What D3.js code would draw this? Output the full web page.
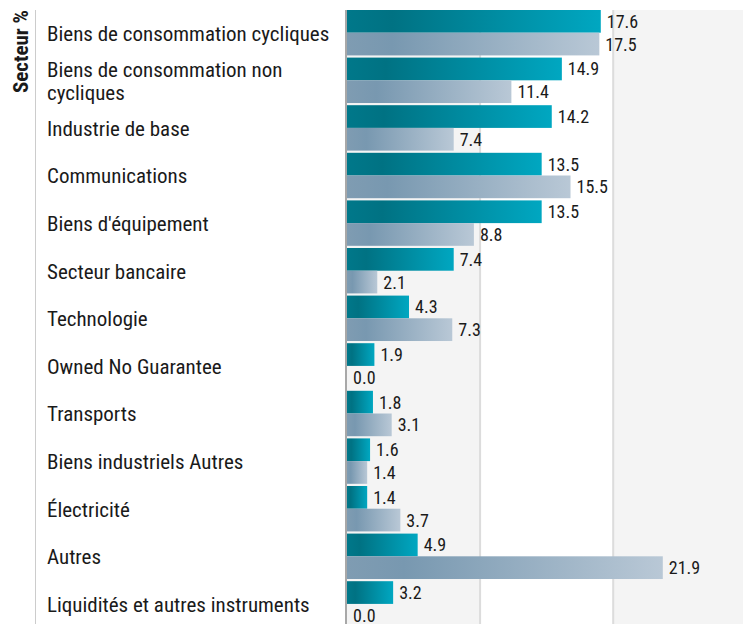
<!DOCTYPE html>
<html>
<head>
<meta charset="utf-8">
<script src="https://cdn.jsdelivr.net/npm/d3@7"></script>
<style>
  body { margin: 0; background: #fff; }
  text { font-family: Roboto, sans-serif; font-stretch: 85%; fill: #1a1a1a; }
</style>
</head>
<body>
<div id="chart"></div>
<script>
const categories = [
  ['Biens de consommation cycliques'],
  ['Biens de consommation non', 'cycliques'],
  ['Industrie de base'],
  ['Communications'],
  ["Biens d'équipement"],
  ['Secteur bancaire'],
  ['Technologie'],
  ['Owned No Guarantee'],
  ['Transports'],
  ['Biens industriels Autres'],
  ['Électricité'],
  ['Autres'],
  ['Liquidités et autres instruments']
];
const fundValues = [17.6, 14.9, 14.2, 13.5, 13.5, 7.4, 4.3, 1.9, 1.8, 1.6, 1.4, 4.9, 3.2];
const indexValues = [17.5, 11.4, 7.4, 15.5, 8.8, 2.1, 7.3, 0.0, 3.1, 1.4, 3.7, 21.9, 0.0];
const gridValues = [9.23, 18.46, 27.7];
const axisTitle = 'Secteur %';

const W = 743, H = 624;
const plotTop = 10, step = 47.6;
const labelX = 47;

const svg = d3.select('#chart').append('svg')
  .attr('width', W).attr('height', H);

const defs = svg.append('defs');
const tealGrad = defs.append('linearGradient').attr('id', 'tealGrad');
tealGrad.append('stop').attr('offset', '0%').attr('stop-color', '#00788a');
tealGrad.append('stop').attr('offset', '18%').attr('stop-color', '#007283');
tealGrad.append('stop').attr('offset', '100%').attr('stop-color', '#00a7c1');
const greyGrad = defs.append('linearGradient').attr('id', 'greyGrad');
greyGrad.append('stop').attr('offset', '0%').attr('stop-color', '#7f9cb2');
greyGrad.append('stop').attr('offset', '18%').attr('stop-color', '#7898b0');
greyGrad.append('stop').attr('offset', '100%').attr('stop-color', '#b9c8d6');

const keys = categories.map(c => c.join(' '));
const y = d3.scaleBand().domain(keys)
  .range([plotTop, plotTop + categories.length * step])
  .paddingInner(0.046).paddingOuter(0.023).align(0);
const sub = d3.scaleBand().domain(['fund', 'index']).range([0, y.bandwidth()]);
const x = d3.scaleLinear().domain([0, 27.7]).range([347, 347 + 27.7 * 14.42]);

// alternating background columns
const edges = [0].concat(gridValues);
svg.selectAll('.stripe')
  .data(d3.pairs(edges))
  .enter().append('rect')
  .attr('x', d => x(d[0]))
  .attr('y', plotTop)
  .attr('width', d => x(d[1]) - x(d[0]))
  .attr('height', H - plotTop)
  .attr('fill', (d, i) => i % 2 === 0 ? '#f4f4f4' : '#ffffff');

svg.selectAll('.grid')
  .data(gridValues.slice(0, 2))
  .enter().append('line')
  .attr('x1', d => x(d)).attr('x2', d => x(d))
  .attr('y1', plotTop).attr('y2', H)
  .attr('stroke', '#dcdcdc').attr('stroke-width', 2);

const rows = keys.map((k, i) => ({ key: k, lines: categories[i], fund: fundValues[i], index: indexValues[i] }));

const g = svg.selectAll('.row')
  .data(rows)
  .enter().append('g')
  .attr('transform', d => `translate(0,${y(d.key)})`);

g.append('rect')
  .attr('x', x(0))
  .attr('y', sub('fund'))
  .attr('width', d => x(d.fund) - x(0))
  .attr('height', sub.bandwidth())
  .attr('fill', 'url(#tealGrad)');

g.append('rect')
  .attr('x', x(0))
  .attr('y', sub('index'))
  .attr('width', d => x(d.index) - x(0))
  .attr('height', sub.bandwidth())
  .attr('fill', 'url(#greyGrad)');

g.append('text')
  .attr('x', d => x(d.fund) + 6)
  .attr('y', sub('fund') + sub.bandwidth() / 2)
  .attr('dy', '0.36em')
  .style('font-size', '18px')
  .text(d => d.fund.toFixed(1));

g.append('text')
  .attr('x', d => x(d.index) + 6)
  .attr('y', sub('index') + sub.bandwidth() / 2)
  .attr('dy', '0.36em')
  .style('font-size', '18px')
  .text(d => d.index.toFixed(1));

// category labels
const lbl = g.append('text')
  .attr('x', labelX)
  .attr('y', y.bandwidth() / 2)
  .style('font-size', '21px');
lbl.selectAll('tspan')
  .data(d => d.lines.map((t, i) => ({ t, i, n: d.lines.length })))
  .enter().append('tspan')
  .attr('x', labelX)
  .attr('y', d => y.bandwidth() / 2 + (d.i - (d.n - 1) / 2) * 23)
  .attr('dy', '0.38em')
  .text(d => d.t);

// axis line and divider
svg.append('line')
  .attr('x1', x(0) - 1).attr('x2', x(0) - 1)
  .attr('y1', plotTop).attr('y2', H)
  .attr('stroke', '#a8a8a8').attr('stroke-width', 2);

svg.append('line')
  .attr('x1', 35.5).attr('x2', 35.5)
  .attr('y1', plotTop).attr('y2', H)
  .attr('stroke', '#cccccc').attr('stroke-width', 1);

svg.append('text')
  .attr('transform', 'translate(28,10) rotate(-90)')
  .attr('text-anchor', 'end')
  .style('font-size', '21px')
  .style('font-weight', 'bold')
  .text(axisTitle);
</script>
</body>
</html>
